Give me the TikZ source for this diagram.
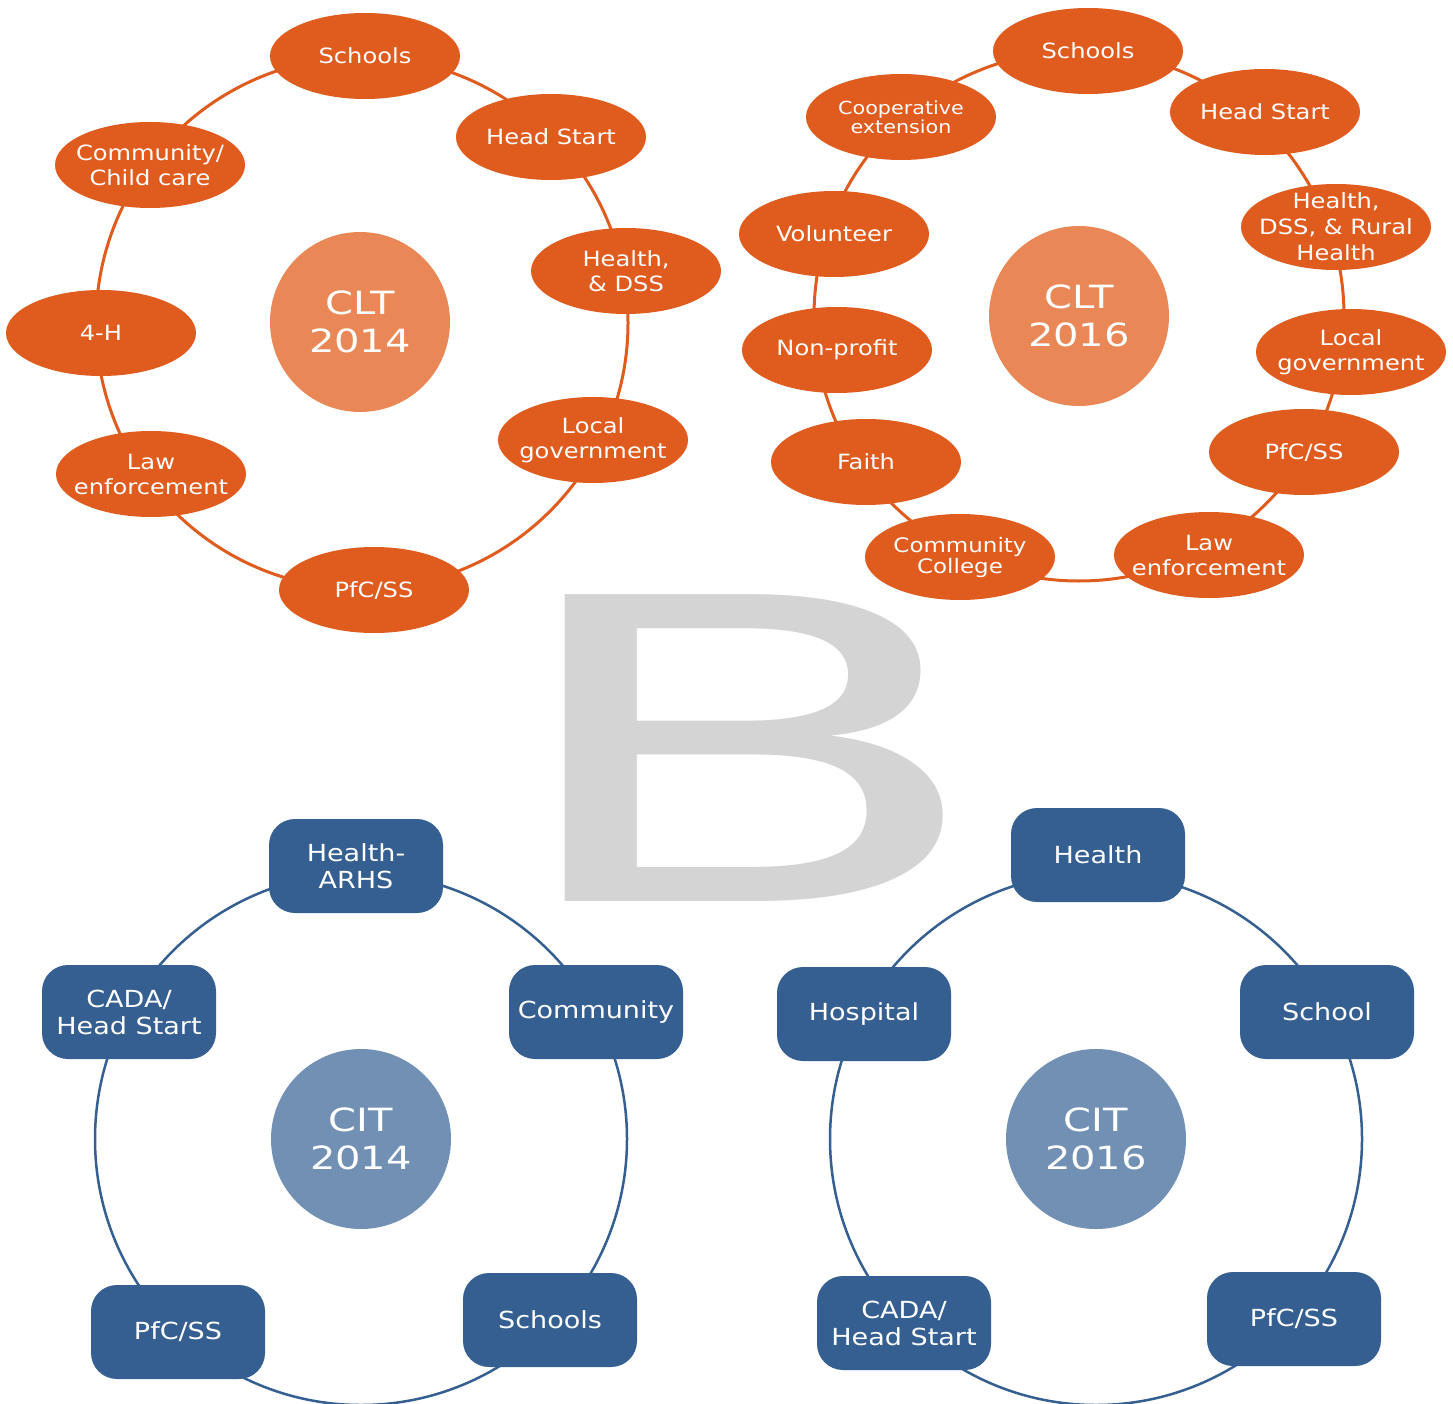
\documentclass[tikz,border=0pt]{standalone}
\usepackage{fontspec}
\usetikzlibrary{shapes.geometric}
\newfontfamily\labelfont[FakeStretch=1.15]{DejaVu Sans}
\newfontfamily\hubfont[FakeStretch=1.25]{DejaVu Sans}
\newfontfamily\letterfont{DejaVu Sans}
\definecolor{rust}{HTML}{DF5B1E}
\definecolor{peach}{HTML}{E98856}
\definecolor{navy}{HTML}{365F91}
\definecolor{steel}{HTML}{7190B3}
\definecolor{ghost}{HTML}{D4D4D4}
\tikzset{
  oval/.style={ellipse, fill=rust, minimum width=190pt, minimum height=86pt,
    inner xsep=-40pt, inner ysep=-20pt, text=white, align=center,
    font=\labelfont\fontsize{21}{25}\selectfont},
  tile/.style={rectangle, rounded corners=26pt, fill=navy, minimum width=174pt,
    minimum height=94pt, inner sep=0pt, text=white, align=center,
    font=\labelfont\fontsize{23.5}{27}\selectfont},
  hub/.style={circle, minimum size=180pt, inner sep=0pt, text=white,
    align=center, font=\hubfont\fontsize{32}{38}\selectfont},
  ringO/.style={draw=rust, line width=3pt},
  ringB/.style={draw=navy, line width=2.5pt},
}
\begin{document}
\begin{tikzpicture}[x=1pt,y=-1pt]
\useasboundingbox (0,0) rectangle (1453,1404);
\fill[white] (0,0) rectangle (1453,1404);

% large panel letter
\node[anchor=base west, inner sep=0pt, text=ghost,
  font=\letterfont\fontsize{421}{421}\selectfont] (panel) at (493,901)
  {\scalebox{1.736}[1]{B}};

% hubs
\node[hub, fill=peach] (clt14) at (360,322) {CLT\\2014};
\node[hub, fill=peach] (clt16) at (1079,316) {CLT\\2016};
\node[hub, fill=steel] (cit14) at (361,1139) {CIT\\2014};
\node[hub, fill=steel] (cit16) at (1096,1139) {CIT\\2016};

% rings
\draw[ringO] (362,323) circle[radius=266pt];
\draw[ringO] (clt16.center) circle[radius=265pt];
\draw[ringB] (cit14.center) circle[radius=266pt];
\draw[ringB] (cit16.center) circle[radius=266pt];

% CLT 2014
\node[oval] (a1) at (365,56) {Schools};
\node[oval] (a2) at (551,137) {Head Start};
\node[oval] (a3) at (626,271) {Health,\\\& DSS};
\node[oval] (a4) at (593,440) {Local\\government};
\node[oval] (a5) at (374,590) {PfC/SS};
\node[oval] (a6) at (151,474) {Law\\enforcement};
\node[oval] (a7) at (101,333) {4-H};
\node[oval] (a8) at (150,165) {Community/\\Child care};

% CLT 2016
\node[oval] (b1) at (1088,51) {Schools};
\node[oval] (b2) at (1265,112) {Head Start};
\node[oval, font=\labelfont\fontsize{21}{26}\selectfont] (b3) at (1336,227) {Health,\\DSS, \& Rural\\Health};
\node[oval] (b4) at (1351,352) {Local\\government};
\node[oval] (b5) at (1304,452) {PfC/SS};
\node[oval] (b6) at (1209,555) {Law\\enforcement};
\node[oval, font=\labelfont\fontsize{20}{21}\selectfont] (b7) at (960,557) {Community\\College};
\node[oval] (b8) at (866,462) {Faith};
\node[oval] (b9) at (837,350) {Non-profit};
\node[oval] (b10) at (834,234) {Volunteer};
\node[oval, font=\labelfont\fontsize{18}{19}\selectfont] (b11) at (901,117) {Cooperative\\extension};

% CIT 2014
\node[tile] (c1) at (356,866) {Health-\\ARHS};
\node[tile] (c2) at (596,1012) {Community};
\node[tile] (c3) at (550,1320) {Schools};
\node[tile] (c4) at (178,1332) {PfC/SS};
\node[tile] (c5) at (129,1012) {CADA/\\Head Start};

% CIT 2016
\node[tile] (d1) at (1098,855) {Health};
\node[tile] (d2) at (1327,1012) {School};
\node[tile] (d3) at (1294,1319) {PfC/SS};
\node[tile] (d4) at (904,1323) {CADA/\\Head Start};
\node[tile] (d5) at (864,1014) {Hospital};
\end{tikzpicture}
\end{document}
